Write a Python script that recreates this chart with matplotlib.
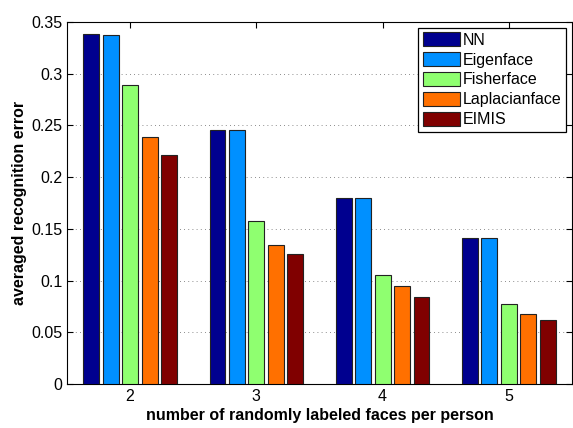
import numpy as np
import matplotlib
matplotlib.use("Agg")
import matplotlib.pyplot as plt

# 每人随机标注的人脸数
labeled_counts = [2, 3, 4, 5]

# 各方法的平均识别错误率
methods = ["NN", "Eigenface", "Fisherface", "Laplacianface", "EIMIS"]
err_nn = [0.338, 0.246, 0.180, 0.141]
err_eigen = [0.337, 0.246, 0.180, 0.141]
err_fisher = [0.289, 0.158, 0.105, 0.077]
err_laplacian = [0.239, 0.134, 0.095, 0.068]
err_eimis = [0.221, 0.126, 0.084, 0.062]

colors = ["#00008F", "#0090FF", "#8FFF70", "#FF7000", "#800000"]

plt.rcParams["font.family"] = ["Liberation Sans", "DejaVu Sans"]

fig = plt.figure(figsize=(5.73, 4.28), dpi=100)
ax = fig.add_axes([67 / 573, 1 - 384 / 428, (572 - 67) / 573, (384 - 22) / 428])

x = np.array(labeled_counts, dtype=float)
series = [err_nn, err_eigen, err_fisher, err_laplacian, err_eimis]
pitch = 0.154
width = 0.126
for i, (name, vals, c) in enumerate(zip(methods, series, colors)):
    ax.bar(x + (i - 2) * pitch, vals, width, color=c, edgecolor="#222222",
           linewidth=0.8, label=name, zorder=3)

ax.set_xlim(1.5, 5.5)
ax.set_ylim(0, 0.35)
ax.set_xticks(labeled_counts)
ax.set_yticks([0, 0.05, 0.1, 0.15, 0.2, 0.25, 0.3, 0.35])
ax.set_yticklabels(["0", "0.05", "0.1", "0.15", "0.2", "0.25", "0.3", "0.35"])
ax.tick_params(direction="in", top=True, right=True, labelsize=11.5, length=4)
ax.yaxis.grid(True, linestyle=(0, (1, 4)), color="#666666", linewidth=0.6, zorder=0)
for s in ax.spines.values():
    s.set_linewidth(0.8)

ax.set_xlabel("number of randomly labeled faces per person", fontsize=11.5,
              fontweight="bold", labelpad=3)
ax.set_ylabel("averaged recognition error", fontsize=11.5, fontweight="bold",
              labelpad=3)

leg = ax.legend(loc="upper right", fontsize=11.5, fancybox=False, framealpha=1,
                edgecolor="black", handlelength=2.3, handleheight=0.95,
                handletextpad=0.2, labelspacing=0.28, borderpad=0.3,
                borderaxespad=0.35)
leg.get_frame().set_linewidth(0.9)

fig.savefig("out.png", dpi=100)
